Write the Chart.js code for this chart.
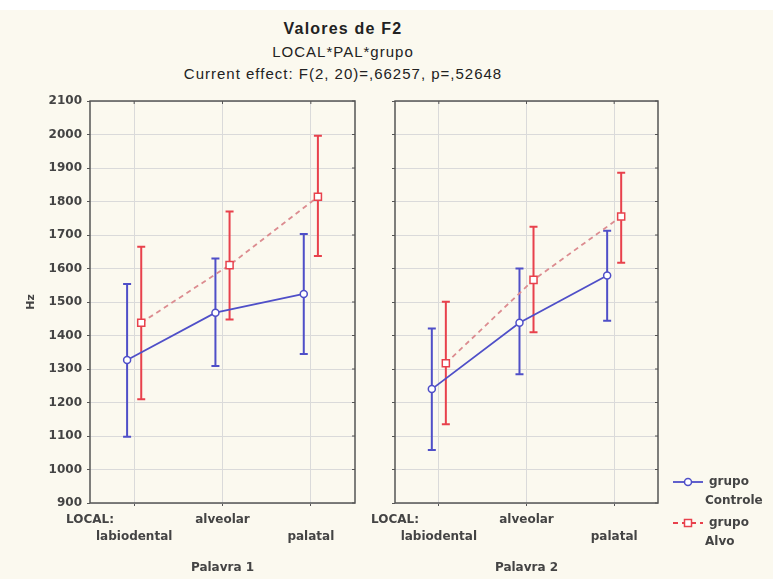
<!DOCTYPE html>
<html>
<head>
<meta charset="utf-8">
<script src="https://cdn.jsdelivr.net/npm/chart.js@4.4.1/dist/chart.umd.min.js"></script>
<style>
  html, body { margin: 0; padding: 0; }
  body { width: 773px; height: 579px; background: #fbf9ef; position: relative; overflow: hidden; }
  #faixa { position: absolute; left: 0; top: 0; width: 773px; height: 10px; background: #ffffff; }
  #titulo { position: absolute; left: 0; top: 18px; width: 686px; text-align: center; letter-spacing: 1px;
            font-family: "Liberation Sans", Arial, sans-serif; font-size: 15px; line-height: 22.5px; color: #222; }
  #titulo b { font-size: 16px; letter-spacing: 1.2px; }
  #boxA { position: absolute; left: 0; top: 0; width: 365px; height: 579px; }
  #boxB { position: absolute; left: 365px; top: 0; width: 408px; height: 579px; }
</style>
</head>
<body>
<div id="faixa"></div>
<div id="titulo"><b>Valores de F2</b><br>LOCAL*PAL*grupo<br>Current effect: F(2, 20)=,66257, p=,52648</div>
<div id="boxA"><canvas id="chartA" width="365" height="579"></canvas></div>
<div id="boxB"><canvas id="chartB" width="408" height="579"></canvas></div>
<script>
// dados
const categorias = ['labiodental', 'alveolar', 'palatal'];
const grupos = ['grupo Controle', 'grupo Alvo'];

// Palavra 1
const controle1 = [1327, 1468, 1524];
const controle1Baixo = [1098, 1309, 1345];
const controle1Alto = [1554, 1630, 1703];
const alvo1 = [1438, 1610, 1814];
const alvo1Baixo = [1210, 1448, 1637];
const alvo1Alto = [1665, 1770, 1996];

// Palavra 2
const controle2 = [1240, 1438, 1579];
const controle2Baixo = [1058, 1284, 1444];
const controle2Alto = [1421, 1600, 1713];
const alvo2 = [1317, 1566, 1755];
const alvo2Baixo = [1135, 1410, 1617];
const alvo2Alto = [1501, 1725, 1886];

const yMin = 900, yMax = 2100, yPasso = 100;

const azul = '#4f4fc8';
const vermelho = '#e8414c';
const rosa = '#dc8c90';
const fonte = '"DejaVu Sans", sans-serif';
const desloc = 0.08; // afastamento dos grupos em cada categoria

function pontos(valores, d) {
  return valores.map((v, i) => ({ x: i + d, y: v }));
}

function dsControle(valores, baixo, alto) {
  return {
    label: grupos[0], data: pontos(valores, -desloc), baixo: baixo, alto: alto,
    borderColor: azul, borderWidth: 1.8, backgroundColor: '#fff',
    pointStyle: 'circle', pointRadius: 3.5, pointBorderWidth: 1.5,
    pointBorderColor: azul, pointBackgroundColor: '#fff', corBarra: azul
  };
}
function dsAlvo(valores, baixo, alto) {
  return {
    label: grupos[1], data: pontos(valores, desloc), baixo: baixo, alto: alto,
    borderColor: rosa, borderWidth: 1.8, borderDash: [5, 4], backgroundColor: '#fff',
    pointStyle: 'rect', pointRadius: 5, pointBorderWidth: 1.5,
    pointBorderColor: vermelho, pointBackgroundColor: '#fff', corBarra: vermelho
  };
}

// barras de erro e moldura
const painel = {
  id: 'painel',
  beforeDatasetsDraw(chart) {
    const ctx = chart.ctx, y = chart.scales.y;
    chart.data.datasets.forEach((ds, i) => {
      const meta = chart.getDatasetMeta(i);
      ctx.save();
      ctx.strokeStyle = ds.corBarra;
      ctx.lineWidth = 2;
      meta.data.forEach((p, j) => {
        const y1 = y.getPixelForValue(ds.baixo[j]);
        const y2 = y.getPixelForValue(ds.alto[j]);
        ctx.beginPath();
        ctx.moveTo(p.x, y1); ctx.lineTo(p.x, y2);
        ctx.moveTo(p.x - 4, y1); ctx.lineTo(p.x + 4, y1);
        ctx.moveTo(p.x - 4, y2); ctx.lineTo(p.x + 4, y2);
        ctx.stroke();
      });
      ctx.restore();
    });
  },
  afterDatasetsDraw(chart) {
    const ctx = chart.ctx, a = chart.chartArea;
    ctx.save();
    ctx.strokeStyle = '#555';
    ctx.lineWidth = 1.5;
    ctx.strokeRect(a.left, a.top, a.right - a.left, a.bottom - a.top);
    ctx.lineWidth = 1;
    ctx.beginPath();
    chart.scales.y.ticks.forEach(t => {
      const py = chart.scales.y.getPixelForValue(t.value);
      ctx.moveTo(a.right, py); ctx.lineTo(a.right - 3, py);
    });
    chart.scales.x.ticks.forEach(t => {
      if (t.value < 0) return;
      const px = chart.scales.x.getPixelForValue(t.value);
      ctx.moveTo(px, a.top); ctx.lineTo(px, a.top + 3);
    });
    ctx.stroke();
    ctx.restore();
  }
};

// legenda à direita
const legenda = {
  id: 'legenda',
  afterDraw(chart) {
    const ctx = chart.ctx;
    const itens = [
      { ds: chart.data.datasets[0], y: 482, l1: 'grupo', l2: 'Controle' },
      { ds: chart.data.datasets[1], y: 523, l1: 'grupo', l2: 'Alvo' }
    ];
    ctx.save();
    itens.forEach(it => {
      const ds = it.ds;
      ctx.strokeStyle = ds.pointBorderColor;
      ctx.lineWidth = 1.8;
      ctx.setLineDash(ds.borderDash || []);
      ctx.beginPath(); ctx.moveTo(308, it.y); ctx.lineTo(338, it.y); ctx.stroke();
      ctx.setLineDash([]);
      ctx.lineWidth = 1.5;
      ctx.fillStyle = '#fff';
      if (ds.pointStyle === 'circle') {
        ctx.beginPath(); ctx.arc(323, it.y, 3.5, 0, Math.PI * 2); ctx.fill(); ctx.stroke();
      } else {
        ctx.fillRect(319.5, it.y - 3.5, 7, 7); ctx.strokeRect(319.5, it.y - 3.5, 7, 7);
      }
      ctx.fillStyle = '#444';
      ctx.font = 'bold 12px ' + fonte;
      ctx.textBaseline = 'middle';
      ctx.textAlign = 'left';
      ctx.fillText(it.l1, 344, it.y);
      ctx.fillText(it.l2, 340, it.y + 19);
    });
    ctx.restore();
  }
};

function rotuloX(v) {
  if (v === -0.5) return 'LOCAL:';
  if (v === 1) return categorias[1];
  return ['', categorias[v]];
}

function opcoes(titulo, comY, direita) {
  return {
    responsive: false,
    animation: false,
    devicePixelRatio: 1,
    layout: { padding: { top: 101, right: direita, left: 0, bottom: 0 } },
    plugins: { legend: { display: false }, tooltip: { enabled: false } },
    scales: {
      x: {
        type: 'linear', min: -0.5, max: 2.5,
        afterBuildTicks: s => { s.ticks = [-0.5, 0, 1, 2].map(v => ({ value: v })); },
        afterFit: s => { s.height = 76; },
        ticks: {
          callback: v => rotuloX(v), autoSkip: false, maxRotation: 0, padding: 5,
          color: '#444', font: { family: fonte, size: 12, weight: 'bold', lineHeight: 1.45 }
        },
        grid: {
          color: c => (c.tick && c.tick.value === -0.5) ? 'rgba(0,0,0,0)' : '#dadada',
          tickColor: c => (c.tick && c.tick.value === -0.5) ? 'rgba(0,0,0,0)' : '#555',
          tickLength: 3, lineWidth: 1
        },
        border: { display: false },
        title: {
          display: true, text: titulo, color: '#444', padding: { top: 2, bottom: 4 },
          font: { family: fonte, size: 12, weight: 'bold' }
        }
      },
      y: {
        min: yMin, max: yMax,
        afterFit: s => { s.width = comY ? 90 : 30; },
        ticks: {
          display: comY, stepSize: yPasso, padding: 5, color: '#444',
          callback: v => String(v),
          font: { family: fonte, size: 12, weight: 'bold' }
        },
        grid: { color: '#dadada', tickColor: '#555', tickLength: 3, lineWidth: 1 },
        border: { display: false },
        title: {
          display: comY, text: 'Hz', color: '#444', padding: { top: 25, bottom: 0 },
          font: { family: fonte, size: 11, weight: 'bold' }
        }
      }
    }
  };
}

new Chart(document.getElementById('chartA'), {
  type: 'line',
  data: {
    datasets: [
      dsControle(controle1, controle1Baixo, controle1Alto),
      dsAlvo(alvo1, alvo1Baixo, alvo1Alto)
    ]
  },
  options: opcoes('Palavra 1', true, 10),
  plugins: [painel]
});

new Chart(document.getElementById('chartB'), {
  type: 'line',
  data: {
    datasets: [
      dsControle(controle2, controle2Baixo, controle2Alto),
      dsAlvo(alvo2, alvo2Baixo, alvo2Alto)
    ]
  },
  options: opcoes('Palavra 2', false, 115),
  plugins: [painel, legenda]
});
</script>
</body>
</html>
